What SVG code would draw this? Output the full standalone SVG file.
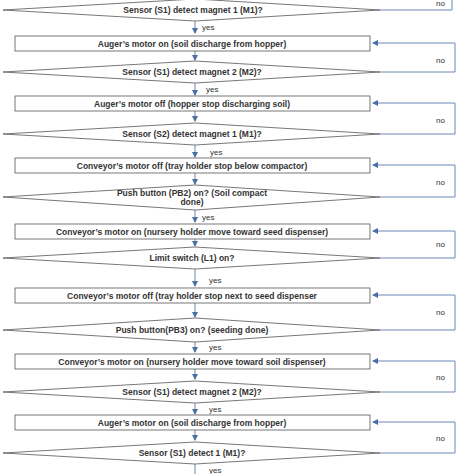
<svg xmlns="http://www.w3.org/2000/svg" width="474" height="474" viewBox="0 0 474 474">
<defs><marker id="a" markerWidth="6" markerHeight="6" refX="5" refY="3" orient="auto" markerUnits="userSpaceOnUse"><path d="M0,0L6,3L0,6z" fill="#4a6fa5"/></marker></defs>
<style>
.b{fill:#fff;stroke:#555;stroke-width:0.8}
.t{font-family:"Liberation Sans",Arial,sans-serif;font-size:8.5px;font-weight:600;fill:#333;text-anchor:middle;dominant-baseline:central}
.l{font-family:"Liberation Sans",Arial,sans-serif;font-size:8px;fill:#333}
.c{fill:none;stroke:#6a88b8;stroke-width:1}
</style>
<rect width="474" height="474" fill="#fff"/>
<g id="connectors">
<path class="c" d="M380,10H452V-5"/>
<path class="c" d="M195,21V33" marker-end="url(#a)"/><path class="c" d="M195,51V60" marker-end="url(#a)"/>
<path class="c" d="M380,72H455V43H373" marker-end="url(#a)"/>
<path class="c" d="M195,83V95" marker-end="url(#a)"/><path class="c" d="M195,111V121" marker-end="url(#a)"/>
<path class="c" d="M380,134H455V103H373" marker-end="url(#a)"/>
<path class="c" d="M195,145V157" marker-end="url(#a)"/><path class="c" d="M195,173V184" marker-end="url(#a)"/>
<path class="c" d="M380,197H455V165H373" marker-end="url(#a)"/>
<path class="c" d="M195,210V222" marker-end="url(#a)"/><path class="c" d="M195,239V246" marker-end="url(#a)"/>
<path class="c" d="M380,258H455V231H373" marker-end="url(#a)"/>
<path class="c" d="M195,269V286" marker-end="url(#a)"/><path class="c" d="M195,303V317" marker-end="url(#a)"/>
<path class="c" d="M380,330H455V295H373" marker-end="url(#a)"/>
<path class="c" d="M195,342V352" marker-end="url(#a)"/><path class="c" d="M195,369V379" marker-end="url(#a)"/>
<path class="c" d="M380,392H455V361H373" marker-end="url(#a)"/>
<path class="c" d="M195,403V414" marker-end="url(#a)"/><path class="c" d="M195,430V440" marker-end="url(#a)"/>
<path class="c" d="M380,453H455V422H373" marker-end="url(#a)"/>
<path class="c" d="M195,464V476"/>
<text class="l" x="202" y="30">yes</text><text class="l" x="436" y="6">no</text>
<text class="l" x="206" y="92">yes</text><text class="l" x="436" y="63">no</text>
<text class="l" x="210" y="155">yes</text><text class="l" x="436" y="123">no</text>
<text class="l" x="202" y="220">yes</text><text class="l" x="436" y="185">no</text>
<text class="l" x="209" y="283">yes</text><text class="l" x="436" y="247">no</text>
<text class="l" x="209" y="350">yes</text><text class="l" x="436" y="315">no</text>
<text class="l" x="209" y="412">yes</text><text class="l" x="436" y="380">no</text>
<text class="l" x="209" y="473">yes</text><text class="l" x="436" y="441">no</text>
</g>
<g id="d1"><polygon class="b" points="3,10 195,-1 380,10 195,21"/><text class="t" x="193" y="10">Sensor  (S1) detect  magnet 1 (M1)?</text></g>
<g id="b1"><rect class="b" x="15" y="36" width="355" height="15"/><text class="t" x="192" y="43.5">Auger’s motor on (soil discharge from hopper)</text></g>
<g id="d2"><polygon class="b" points="3,72 195,61 380,72 195,83"/><text class="t" x="192" y="72">Sensor  (S1) detect  magnet 2 (M2)?</text></g>
<g id="b2"><rect class="b" x="15" y="96" width="355" height="15"/><text class="t" x="192" y="103.5">Auger’s motor off (hopper stop discharging soil)</text></g>
<g id="d3"><polygon class="b" points="3,134 195,123 380,134 195,145"/><text class="t" x="192" y="134">Sensor  (S2) detect magnet 1 (M1)?</text></g>
<g id="b3"><rect class="b" x="15" y="158" width="355" height="15"/><text class="t" x="192" y="165.5">Conveyor’s motor off (tray holder stop below compactor)</text></g>
<g id="d4"><polygon class="b" points="3,197 195,185 380,197 195,210"/><text class="t" x="192" y="193">Push button (PB2) on? (Soil compact</text><text class="t" x="192" y="202">done)</text></g>
<g id="b4"><rect class="b" x="15" y="224" width="355" height="15"/><text class="t" x="192" y="231.5">Conveyor’s motor on (nursery holder move toward seed dispenser)</text></g>
<g id="d5"><polygon class="b" points="3,258 195,247 380,258 195,269"/><text class="t" x="192" y="258">Limit switch (L1) on?</text></g>
<g id="b5"><rect class="b" x="15" y="288" width="355" height="15"/><text class="t" x="192" y="295.5">Conveyor’s motor off (tray holder stop next to seed dispenser</text></g>
<g id="d6"><polygon class="b" points="3,330 195,318 380,330 195,342"/><text class="t" x="192" y="330">Push button(PB3) on? (seeding done)</text></g>
<g id="b6"><rect class="b" x="15" y="354" width="355" height="15"/><text class="t" x="192" y="361.5">Conveyor’s motor on (nursery holder move toward soil dispenser)</text></g>
<g id="d7"><polygon class="b" points="3,392 195,381 380,392 195,403"/><text class="t" x="192" y="392">Sensor  (S1) detect magnet 2 (M2)?</text></g>
<g id="b7"><rect class="b" x="15" y="415" width="355" height="15"/><text class="t" x="192" y="422.5">Auger’s motor on (soil discharge from hopper)</text></g>
<g id="d8"><polygon class="b" points="3,453 195,442 380,453 195,464"/><text class="t" x="192" y="453">Sensor  (S1) detect 1 (M1)?</text></g>
</svg>
